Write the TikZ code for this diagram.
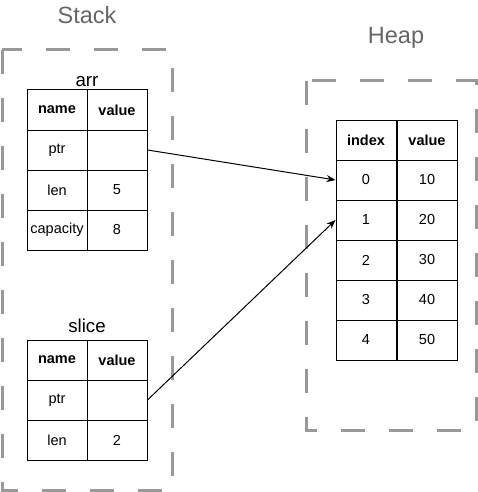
\documentclass[tikz,border=0pt]{standalone}
\usepackage{fontspec}
\setmainfont{Liberation Sans}
\usetikzlibrary{arrows.meta}
\definecolor{dashgray}{RGB}{153,153,153}
\definecolor{labelgray}{RGB}{102,102,102}
\tikzset{
  cell/.style={draw=black, line width=1pt, minimum width=60pt, minimum height=40pt, inner sep=0pt, font=\fontsize{14.5}{16}\selectfont},
  headcell/.style={cell, font=\fontsize{14.5}{16}\selectfont\bfseries},
  region/.style={draw=dashgray, line width=3pt, dash pattern=on 24pt off 24pt},
  title/.style={font=\fontsize{18.7}{20}\selectfont, anchor=base, inner sep=0pt},
  areatitle/.style={font=\fontsize{23.5}{26}\selectfont, text=labelgray, anchor=base, inner sep=0pt},
  ptrarrow/.style={draw=black, line width=1pt, -{Stealth[length=9pt,width=7pt]}}
}
\begin{document}
\begin{tikzpicture}[x=1pt,y=-1pt]
\useasboundingbox (0,0) rectangle (478,492);
% regions
\draw[region] (2,50) rectangle (172,490);
\draw[region] (306,81) rectangle (476,430);
\node[areatitle] (stacklbl) at (87,24) {Stack};
\node[areatitle] (heaplbl) at (396,44) {Heap};
% arr table
\node[title] (arrlbl) at (87,86.5) {arr};
\node[headcell] (a0n) at (57,110) {name};
\node[headcell] (a0v) at (117,110) {value};
\node[cell] (a1n) at (57,150) {ptr};
\node[cell] (a1v) at (117,150) {};
\node[cell] (a2n) at (57,190) {len};
\node[cell] (a2v) at (117,190) {5};
\node[cell] (a3n) at (57,230) {capacity};
\node[cell] (a3v) at (117,230) {8};
% slice table
\node[title] (slicelbl) at (87,332.5) {slice};
\node[headcell] (s0n) at (57,360) {name};
\node[headcell] (s0v) at (117,360) {value};
\node[cell] (s1n) at (57,400) {ptr};
\node[cell] (s1v) at (117,400) {};
\node[cell] (s2n) at (57,440) {len};
\node[cell] (s2v) at (117,440) {2};
% heap table
\node[headcell] (h0i) at (366,140) {index};
\node[headcell] (h0v) at (427,140) {value};
\node[cell] (h1i) at (366,180) {0};
\node[cell] (h1v) at (427,180) {10};
\node[cell] (h2i) at (366,220) {1};
\node[cell] (h2v) at (427,220) {20};
\node[cell] (h3i) at (366,260) {2};
\node[cell] (h3v) at (427,260) {30};
\node[cell] (h4i) at (366,300) {3};
\node[cell] (h4v) at (427,300) {40};
\node[cell] (h5i) at (366,340) {4};
\node[cell] (h5v) at (427,340) {50};
% pointers
\draw[ptrarrow] (a1v.east) -- (h1i.west);
\draw[ptrarrow] (s1v.east) -- (h2i.west);
\end{tikzpicture}
\end{document}
